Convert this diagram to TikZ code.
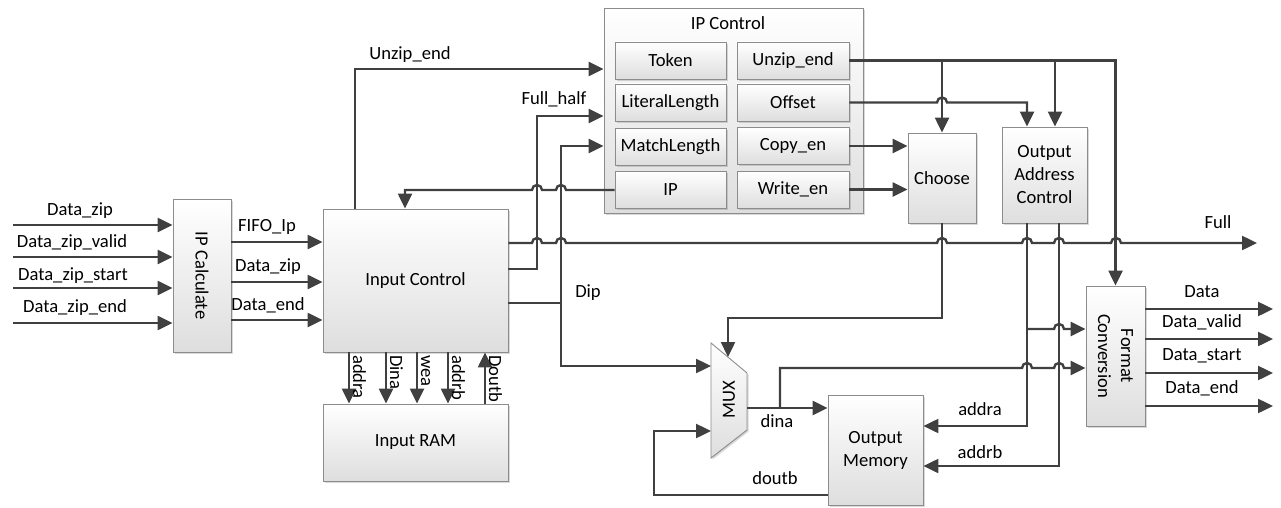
\documentclass[tikz,border=0pt]{standalone}
\usepackage{fontspec}
\setmainfont{Carlito}
\usetikzlibrary{arrows.meta,shadows}
\definecolor{lc}{HTML}{404040}
\definecolor{bc}{HTML}{8C8C8C}
\begin{document}
\begin{tikzpicture}[x=1pt,y=-1pt,font=\fontsize{18.6}{23}\selectfont,
  box/.style={draw=bc,line width=0.9pt,top color=white,bottom color=black!13,
    drop shadow={shadow xshift=1.6pt,shadow yshift=-1.6pt,opacity=0.25,fill=black!60},
    inner sep=0pt,align=center},
  arr/.style={draw=lc,line width=2.4pt,-{Triangle[length=15pt,width=14pt]}},
  ln/.style={draw=lc,line width=2.4pt},
  lbl/.style={inner sep=0pt,text=black,align=center}]
\useasboundingbox (0,0) rectangle (1281,508);

% ---------------- blocks
\node[box,minimum width=58pt,minimum height=153pt] (ipcalc) at (202,275.5) {};
\node[lbl,rotate=-90] at (ipcalc.center) {IP Calculate};
\node[box,minimum width=185pt,minimum height=143pt] (inctl) at (415.5,280.5) {Input Control};
\node[box,minimum width=185pt,minimum height=77pt] (inram) at (415.5,442.5) {Input RAM};
\node[box,minimum width=259pt,minimum height=205pt] (ipctl) at (733.5,110.5) {};
\node[lbl] at (728,23) {IP Control};
\node[box,minimum width=111pt,minimum height=37pt] (tok) at (670.5,60.5) {Token};
\node[box,minimum width=111pt,minimum height=37pt] (lit) at (670.5,102.5) {LiteralLength};
\node[box,minimum width=111pt,minimum height=37pt] (mat) at (670.5,146.5) {MatchLength};
\node[box,minimum width=111pt,minimum height=37pt] (ip) at (670.5,190) {IP};
\node[box,minimum width=112pt,minimum height=37pt] (unz) at (793,60.5) {Unzip\_end};
\node[box,minimum width=112pt,minimum height=37pt] (off) at (793,102.5) {Offset};
\node[box,minimum width=112pt,minimum height=37pt] (cpy) at (793,146) {Copy\_en};
\node[box,minimum width=112pt,minimum height=37pt] (wen) at (793,189.5) {Write\_en};
\node[box,minimum width=68pt,minimum height=90pt] (choose) at (942,178) {Choose};
\node[box,minimum width=85pt,minimum height=96pt] (oac) at (1044.5,175) {Output\\Address\\Control};
\node[box,minimum width=95pt,minimum height=110pt] (outmem) at (875.5,450) {Output\\Memory};
\node[box,minimum width=59pt,minimum height=140pt] (fmt) at (1115.5,356) {};
\node[lbl,rotate=-90] at (fmt.center) {Format\\Conversion};

% MUX
\path[draw=bc,line width=0.9pt,top color=white,bottom color=black!13,
  drop shadow={shadow xshift=1.6pt,shadow yshift=-1.6pt,opacity=0.25,fill=black!60}]
  (711,343) -- (747,373) -- (747,430) -- (711,458) -- cycle;
\node[lbl,rotate=90] (mux) at (729,400) {MUX};
\coordinate (muxtop) at (728,357);
\coordinate (muxin1) at (711,366);
\coordinate (muxin2) at (711,431);
\coordinate (muxout) at (747,408);

% ---------------- left inputs
\coordinate (s1) at (13,225);
\coordinate (s2) at (13,257);
\coordinate (s3) at (13,288);
\coordinate (s4) at (13,323);
\draw[arr] (s1) -- (ipcalc.west |- s1);
\draw[arr] (s2) -- (ipcalc.west |- s2);
\draw[arr] (s3) -- (ipcalc.west |- s3);
\draw[arr] (s4) -- (ipcalc.west |- s4);
\node[lbl] at (80,211) {Data\_zip};
\node[lbl] at (72,243) {Data\_zip\_valid};
\node[lbl] at (73,276) {Data\_zip\_start};
\node[lbl] at (75,308) {Data\_zip\_end};

% ipcalc -> input control
\draw[arr] (ipcalc.east |- 0,242) -- (inctl.west |- 0,242);
\draw[arr] (ipcalc.east |- 0,282) -- (inctl.west |- 0,282);
\draw[arr] (ipcalc.east |- 0,320) -- (inctl.west |- 0,320);
\node[lbl] at (267,227) {FIFO\_Ip};
\node[lbl] at (268,267) {Data\_zip};
\node[lbl] at (268,305) {Data\_end};

% input control <-> input RAM
\draw[arr] (inctl.south -| 349,0) -- (inram.north -| 349,0);
\draw[arr] (inctl.south -| 386,0) -- (inram.north -| 386,0);
\draw[arr] (inctl.south -| 417,0) -- (inram.north -| 417,0);
\draw[arr] (inctl.south -| 448,0) -- (inram.north -| 448,0);
\draw[arr] (inram.north -| 485,0) -- (inctl.south -| 485,0);
\node[lbl,rotate=-90,anchor=base west] at (353,355) {addra};
\node[lbl,rotate=-90,anchor=base west] at (390,355) {Dina};
\node[lbl,rotate=-90,anchor=base west] at (421,355) {wea};
\node[lbl,rotate=-90,anchor=base west] at (452,355) {addrb};
\node[lbl,rotate=-90,anchor=base west] at (489,355) {Doutb};

% Unzip_end from input control
\draw[arr] (inctl.north -| 355,0) |- (ipctl.west |- 0,69);
\node[lbl] at (410,55) {Unzip\_end};
% Full_half
\draw[arr] (inctl.east |- 0,269) -| (537,116) -- (ipctl.west |- 0,116);
\node[lbl] at (554,99) {Full\_half};
% Dip
\draw[arr] (inctl.east |- 0,303) -| (561,146) -- (ipctl.west |- 0,146);
\draw[arr] (561,303) |- (muxin1);
\node[lbl] at (588,293) {Dip};
% IP feedback
\draw[arr] (ip.west) -- (566,190) arc[start angle=0,end angle=180,radius=5pt]
  -- (542,190) arc[start angle=0,end angle=180,radius=5pt]
  -- (405,190) -- (inctl.north -| 405,0);

% Full line
\draw[arr] (inctl.east |- 0,243) -- (532,243) arc[start angle=180,end angle=0,radius=5pt]
  -- (556,243) arc[start angle=180,end angle=0,radius=5pt]
  -- (937,243) arc[start angle=180,end angle=0,radius=5pt]
  -- (1022,243) arc[start angle=180,end angle=0,radius=5pt]
  -- (1054,243) arc[start angle=180,end angle=0,radius=5pt]
  -- (1111,243) arc[start angle=180,end angle=0,radius=5pt]
  -- (1257,243);
\node[lbl] at (1218,222) {Full};

% IP control outputs
\draw[arr] (unz.east) -| (fmt.north);
\draw[arr] (choose.north |- unz.east) -- (choose.north);
\draw[arr] (oac.north -| 1055,0) ++(0,-66.5) -- (oac.north -| 1055,0);
\draw[arr] (off.east) -- (937,102.5) arc[start angle=180,end angle=0,radius=5pt]
  -- (1027,102.5) -- (oac.north -| 1027,0);
\draw[arr] (cpy.east) -- (choose.west |- cpy.east);
\draw[arr] (wen.east) -- (choose.west |- wen.east);

% Choose -> MUX
\draw[arr] (choose.south) -- (942,318) -- (728,318) -- (muxtop);

% OAC -> output memory and format conversion
\draw[arr] (oac.south -| 1027,0) |- (outmem.east |- 0,426);
\draw[arr] (oac.south -| 1059,0) |- (outmem.east |- 0,466);
\node[lbl] at (980,409) {addra};
\node[lbl] at (980,452) {addrb};
\draw[arr] (1027,329) -- (1054,329) arc[start angle=180,end angle=0,radius=5pt]
  -- (fmt.west |- 0,329);

% MUX -> output memory
\draw[arr] (muxout) -- (outmem.west |- muxout);
\draw[arr] (780,408) -- (780,368) -- (1022,368) arc[start angle=180,end angle=0,radius=5pt]
  -- (1054,368) arc[start angle=180,end angle=0,radius=5pt] -- (fmt.west |- 0,368);
\node[lbl] at (777,421) {dina};
% doutb feedback
\draw[arr] (outmem.west |- 0,495) -| (654,431) -- (muxin2);
\node[lbl] at (775,478) {doutb};

% format conversion outputs
\coordinate (o1) at (1273,309);
\coordinate (o2) at (1273,339);
\coordinate (o3) at (1273,373);
\coordinate (o4) at (1273,406);
\draw[arr] (fmt.east |- o1) -- (o1);
\draw[arr] (fmt.east |- o2) -- (o2);
\draw[arr] (fmt.east |- o3) -- (o3);
\draw[arr] (fmt.east |- o4) -- (o4);
\node[lbl] at (1202,292) {Data};
\node[lbl] at (1202,322) {Data\_valid};
\node[lbl] at (1202,356) {Data\_start};
\node[lbl] at (1202,388) {Data\_end};
\end{tikzpicture}
\end{document}
